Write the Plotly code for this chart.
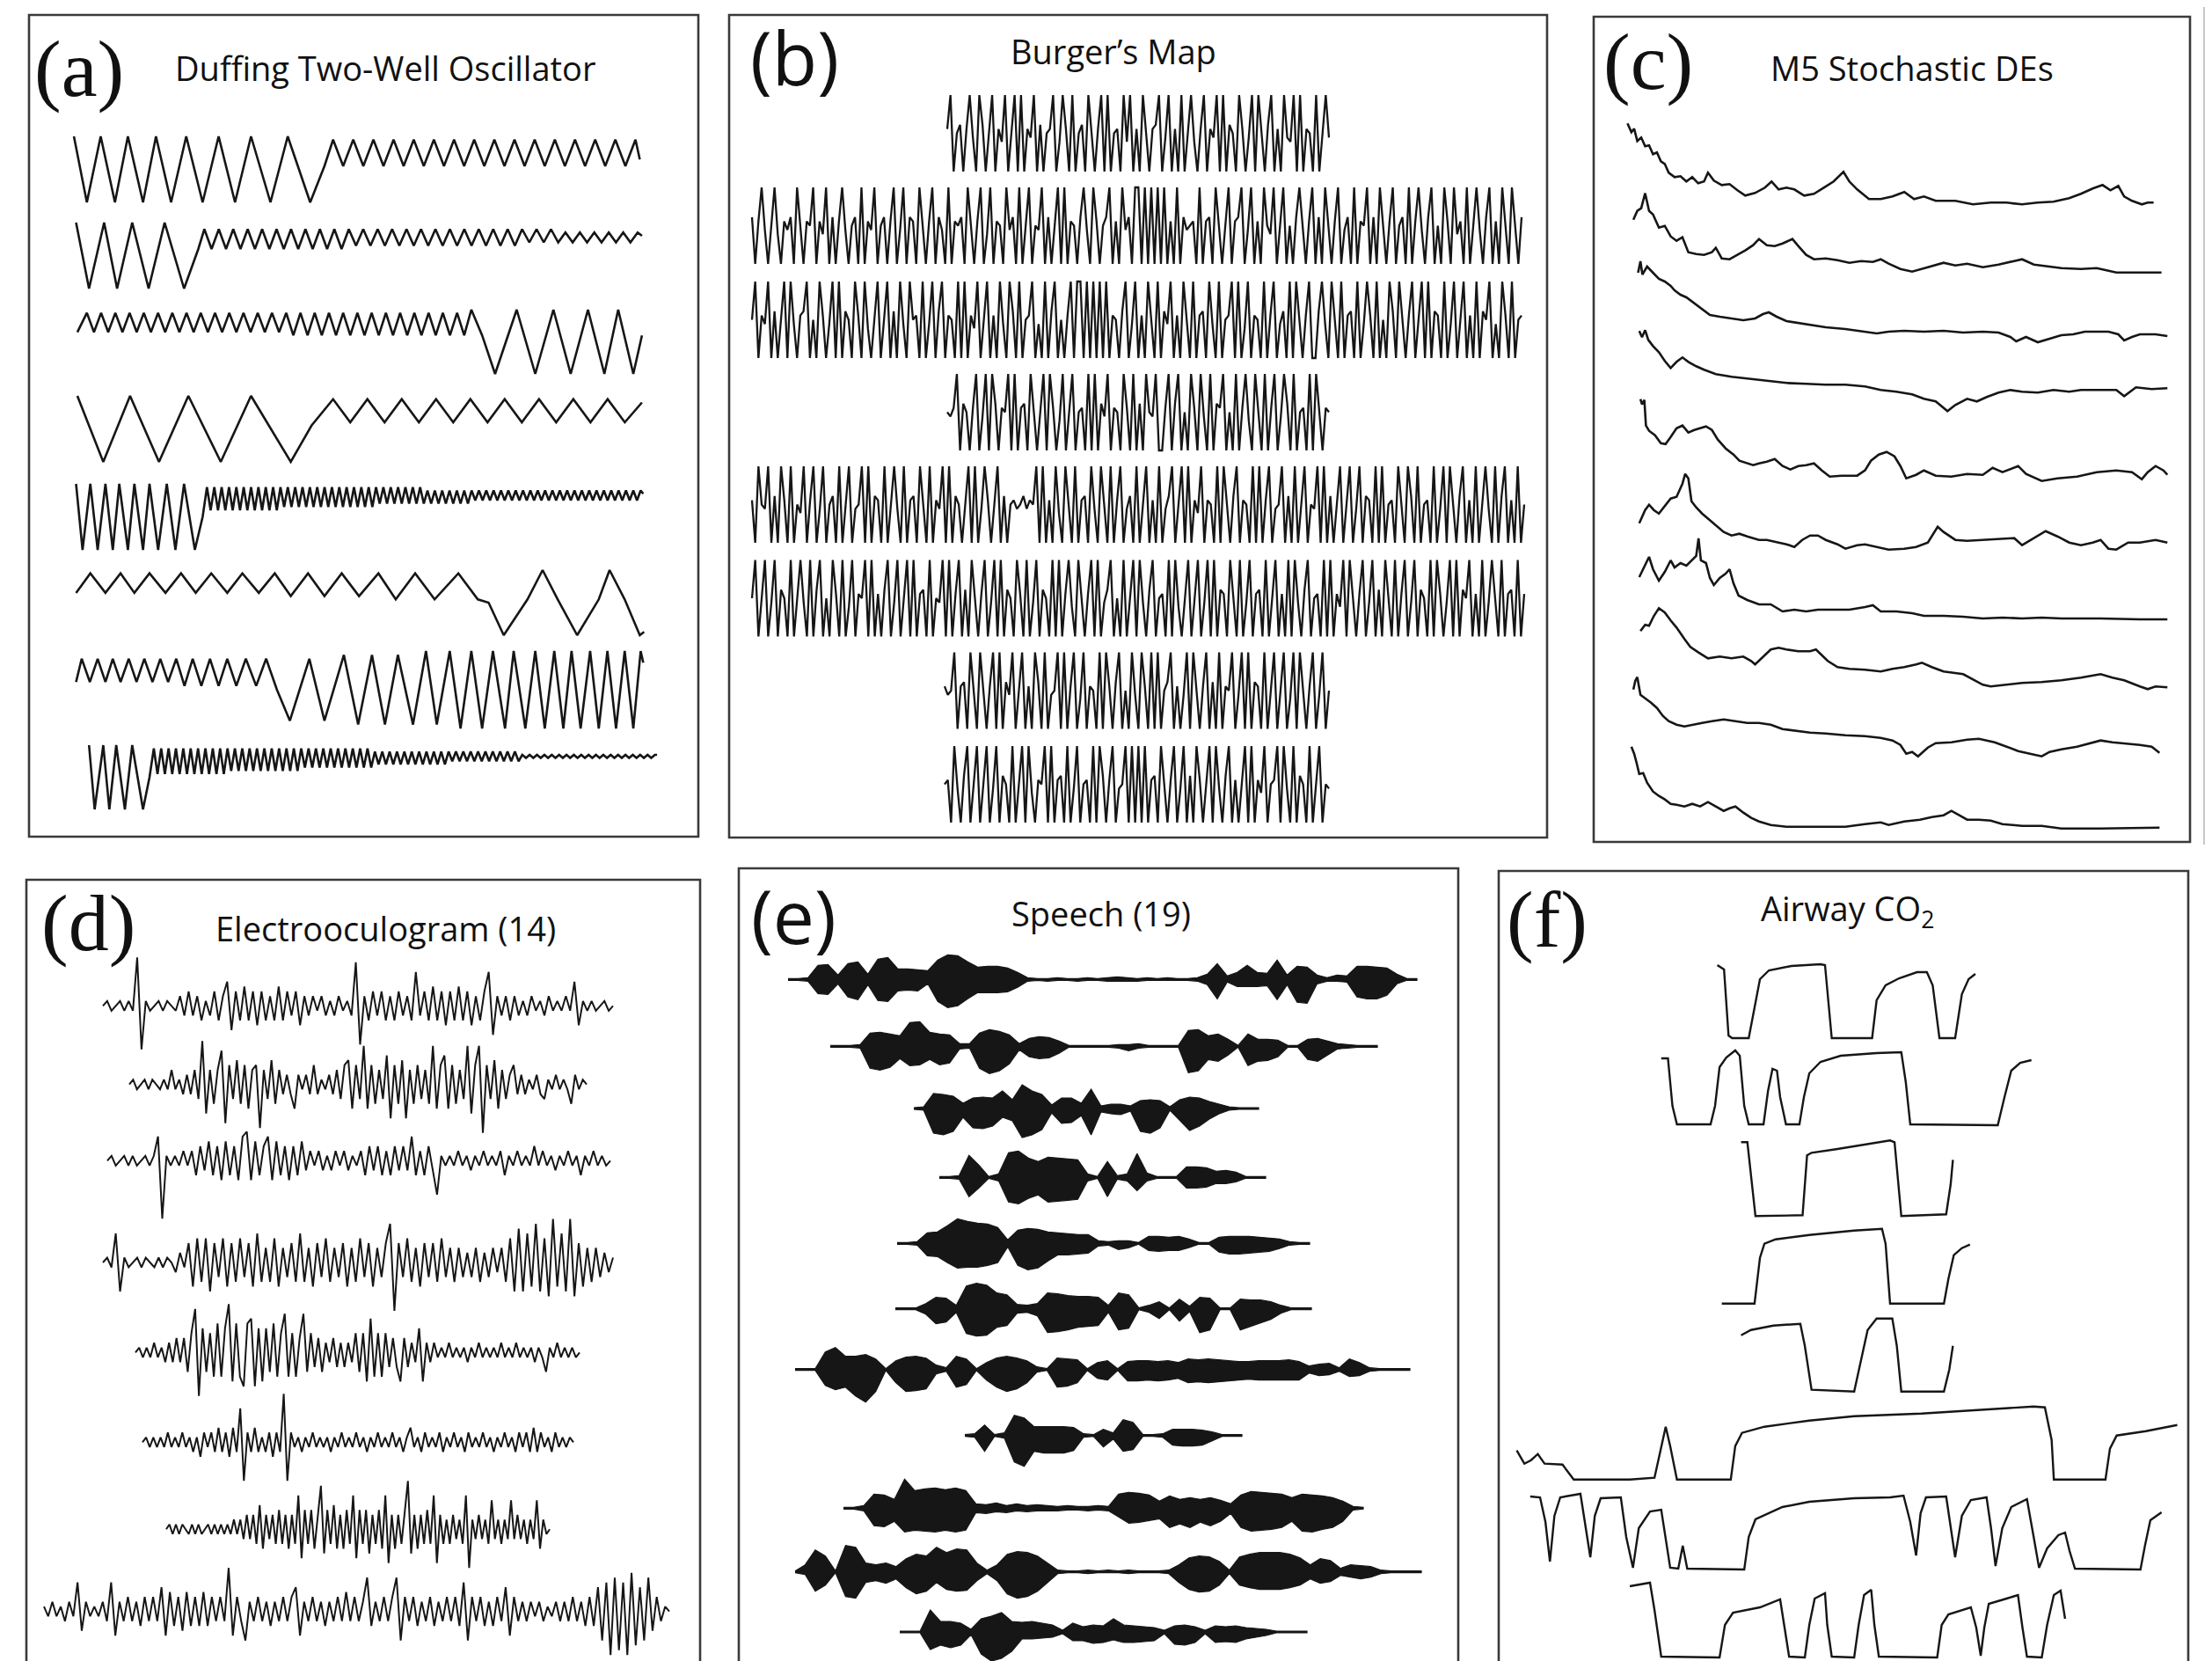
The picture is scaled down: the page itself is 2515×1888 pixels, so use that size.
import numpy as np
import plotly.graph_objects as go

W, H = 2515, 1888
INK = "#161616"

# ============================ DATA ============================
# (a) Duffing two-well oscillator: vertex values (+10 top of swing, -10 bottom)
#     *_K : (vertex index, time) knots of each trace's time base
A1 = [10,-10,10,-10,10,-10,10,-10,10,-10,10,-10,10,-10,10,-10, 1,
      9,1,9,1,9,1,9,1,9,1,9,1,9,1,9,1,9,1,9,1,9,1,9,1,9,1,9,1,9,1,9, 3]
A1_K = [(0,110),(1,140),(2,172),(3,205),(4,235),(5,270),(6,300),(7,335),(8,370),(9,408),
        (10,445),(11,483),(12,520),(13,565),(14,605),(15,657),(16,690),(17,710),(47,1410),(48,1420)]
A2 = [10,-10,10,-10,10,-10,10,-10, 2,
      8,2,8,2,8,2,8,2,8,2,8,2,8,2,8,2,8,2,8,2,
      8,3,8,3,8,3,8,3,8,3,8,3,8,3,8,3,8,3,8,3,
      8,3,8,3,8,4,8,4,8,4,7,4,7,4,7,4,7,4,7,4,
      7, 6]
A2_K = [(0,115),(1,145),(2,180),(3,210),(4,245),(5,283),(6,320),(7,365),(8,398),(9,412),(69,1415),(70,1425)]
A3 = [3,
      9,3,9,3,9,3,9,3,9,3,9,3,9,3,9,3,9,3,9,3,9,3,9,3,9,3,9,3,
      9,2,9,2,9,2,9,2,9,2,9,2,9,2,9,2,9,2,9,2,9,2,9,2,9,2,10,
      2,-10,10,-10,10,-10,10,-10,10,-10,2]
A3_K = [(0,118),(1,140),(55,1030),(56,1055),(57,1085),(58,1135),(59,1178),(60,1220),(61,1260),
        (62,1300),(63,1338),(64,1370),(65,1405),(66,1425)]
A4 = [10,-10,10,-10,10,-10,10,-10, 1, 9,2,9,2,9,2,9,2,9,2,9,2,9,2,9,2,9,2, 8]
A4_K = [(0,118),(1,178),(2,240),(3,307),(4,375),(5,450),(6,520),(7,612),(8,660),(9,710),(27,1425)]
A5 = [10,-10,10,-10,10,-10,10,-10,10,-10,10,-10,10,-10,10,-10, 0,
      9,2,9,2,9,2,9,2,9,2,9,2,9,2,9,2,9,2,9,2,
      9,3,9,3,9,3,9,3,9,3,9,3,9,3,9,3,9,3,9,3,
      9,3,9,3,9,3,9,4,9,4,9,4,9,4,9,4,9,4,9,4,
      8,4,8,4,8,4,8,4,8,4,8,4,8,5,8,5,8,5,8,5,
      8,5,8,5,8,5,8,5,8,5,8,5,8,5,8,5,8,5,8,5,
      8,5,8,5,8,5,8,5,8,5,8,5,8,5,8,5,8,5,8, 7]
A5_K = [(0,115),(1,130),(2,148),(3,165),(4,183),(5,200),(6,215),(7,235),(8,250),(9,270),(10,285),
        (11,305),(12,325),(13,345),(14,365),(15,390),(16,408),(17,418),(135,1422),(136,1428)]
A6 = [3,9,3,9,3,9,3,9,3,9,3,9,3,9,2,9,2,9,2,9,1,9,1,9,1,0,-10,1,10,1,-10,1,10,1,-10,-9]
A6_T = [115,148,183,218,250,285,322,358,392,428,465,500,538,575,612,652,690,730,770,815,
        855,900,945,1000,1045,1070,1105,1160,1195,1230,1275,1325,1350,1385,1420,1430]
A7 = [2,8,2,8,2,8,2,8,2,8, 2,8,2,8,1,8,1,8,1,8, 1,8,1,8,0,-8,8,-8,9,-9,
      9,-9,9,-9,10,-9,10,-10,10,-10, 10,-10,10,-10,10,-10,10,-10,10,-10,
      10,-10,10,-10,10,-10,10,7]
A7_T = [115,128,147,165,183,200,218,237,255,273,292,310,328,347,366,385,405,425,445,465,
        486,508,532,555,580,610,655,690,735,768,800,830,860,895,925,950,980,1005,1030,1055,
        1080,1108,1128,1155,1178,1200,1222,1243,1262,1283,1305,1325,1345,1365,1385,1405,1422,1428]
A8 = [10,-10,10,-10,10,-10,10,-10, 0,
      9,1,9,1,9,1,9,1,9,1,9,1,9,1,9,1,9,1,9,1,
      9,2,9,2,9,2,9,2,9,2,9,2,9,2,9,2,9,2,9,2,
      9,3,9,3,9,3,9,3,9,3,9,3,9,3,9,3,9,3,9,3,
      8,4,8,4,8,4,8,4,8,4,8,4,8,4,8,4,8,4,8,4,
      8,5,8,5,8,5,8,5,8,5,8,5,8,5,8,5,8,5,8,5,
      7,6,7,6,7,6,7,6,7,6,7,6,7,6,7,6,7,6,7,6,
      7,6,7,6,7,6,7,6,7,6,7,6,7,6,7,6,7, 7]
A8_K = [(0,145),(1,158),(2,178),(3,192),(4,208),(5,228),(6,245),(7,270),(8,285),(9,295),(145,1455),(146,1460)]

# (b) Burger's map: samples (+-9 = spike tips, small values = central band)
B1 = [1,9,-9,0,2,-9,1,9,-1,-9,9,2,-9,0,9,-9,1,-2,9,-9,
      0,9,-9,9,-9,1,-1,9,-9,2,-9,0,1,9,-9,-2,9,1,-9,9,
      -9,0,2,-9,9,-1,-9,1,9,-9,9,-9,0,1,-9,9,-2,9,-9,1,
      -9,9,0,-9,1,2,9,-9,-1,9,-9,1,-9,9,-9,0,9,-2,-9,1,
      9,-9,1,-1,9,-9,9,-9,2,0,-9,9,1,-9,-1,9,-9,9,0,-9,
      2,9,-9,1,-9,9,-1,-2,9,-9,9,-9,1,0,-9,9,-9,1,9,-1]
B2 = [2,-9,1,9,-1,-9,0,9,-2,-9,1,-1,2,-9,9,-1,-9,1,0,9,
      -9,1,-2,9,-9,2,-9,1,9,-1,-9,0,2,-9,9,-9,1,-1,9,-9,
      0,2,-9,1,9,-9,-1,9,-9,2,1,-9,9,0,-9,1,9,-9,2,-1,
      -9,9,-9,1,0,2,-9,9,-1,-9,1,9,-9,-2,9,-9,1,0,-9,9,
      -1,2,-9,9,-9,1,9,-9,0,-1,9,-9,2,-9,1,9,-9,9,-9,1,
      0,-9,2,9,-1,-9,9,1,-9,0,2,9,-9,1,-9,9,-1,2,-9,9,
      9,-9,9,-9,9,-9,9,-9,9,-9,1,-9,9,-9,2,-1,0,1,-9,9,
      -9,1,2,-9,9,-1,-9,0,9,-9,1,2,9,-9,-1,9,-9,1,-9,9,
      0,-2,9,-9,1,9,-9,0,-9,2,9,-1,-9,1,9,-9,2,-9,9,0,
      -9,1,9,-9,-1,2,-9,9,-9,1,0,9,-9,2,-9,9,-1,-9,1,9,
      -9,0,2,-9,9,-9,1,9,-1,-9,2,9,-9,0,-9,9,1,-9,9,-2,
      1,-9,9,-9,0,9,-1,-9,2,9,-9,1,-9,9,0,-9,9,-1,-9,2]
B3 = [0,9,-9,1,-1,9,-9,2,-9,0,9,-9,9,-1,-9,1,2,9,-9,0,
      -9,9,1,-9,-1,9,-9,9,-9,2,0,-9,9,1,-9,9,-2,-9,1,9,
      -9,0,9,-9,2,-9,9,-1,-9,9,0,1,-9,9,-9,-1,9,-9,2,9,
      -9,1,0,-9,9,-9,9,-9,1,-2,9,-9,0,9,-9,1,-9,9,-1,-9,
      9,2,-9,9,-9,0,1,9,-9,-1,-9,9,-9,2,9,-9,0,-9,1,9,
      -9,9,9,-9,9,-9,9,-9,9,-9,9,-9,1,0,-9,2,9,-9,-1,9,
      -9,1,-9,9,0,-9,9,-9,2,-1,9,-9,1,-9,9,0,-9,9,-9,1,
      2,-9,9,-1,-9,9,-9,0,1,9,-9,9,-9,-2,9,-9,1,0,-9,9,
      -9,1,9,-9,-1,2,-9,9,-9,9,0,-9,1,9,-9,-9,2,9,-1,-9,
      9,0,-9,9,-9,1,2,-9,9,-9,-1,9,1,-9,9,-9,0,-9,9,2,
      -9,9,-1,-9,1,9,-9,0,9,-9,9,-9,2,1,-9,9,-9,-1,9,-9,
      0,9,-9,1,-9,9,-9,2,0,9,-9,-1,-9,9,1,-9,9,-9,0,1]
B4 = [0,-1,1,9,-9,2,0,-9,1,9,-9,-1,9,-9,9,2,-9,1,0,9,
      -9,9,-9,1,2,-9,9,-1,-9,0,9,-9,9,1,-9,-2,9,-9,1,9,
      -9,0,1,-9,9,-9,9,-9,2,-1,9,-9,1,0,-9,9,1,-9,9,-9,
      2,-9,9,0,-1,9,-9,-9,1,9,-9,2,9,-9,0,-9,9,1,-9,9,
      -1,-9,9,-9,2,1,9,-9,0,-9,9,-9,1,9,-2,-9,9,0,-9,9,
      -9,1,9,-9,-1,9,2,-9,9,-9,0,1,-9,9,-9,9,-1,-9,1,0]
B5 = [1,-9,9,0,-1,9,-9,2,-9,9,1,-9,9,-9,0,-2,9,-9,1,9,
      -9,-1,9,-9,0,2,-9,9,-9,1,9,-9,-1,0,9,-9,9,-9,2,1,
      -9,9,-9,0,9,-1,-9,9,-9,1,2,-9,9,0,-9,9,-9,1,-1,9,
      -9,9,-9,2,0,-9,1,9,-9,9,-9,-1,9,1,-9,0,9,-9,2,-9,
      0,1,-1,0,2,-1,1,0,9,-9,9,-9,1,-9,9,-2,-9,9,0,-9,
      9,-9,1,2,-9,9,-1,-9,9,0,-9,9,-9,1,9,-9,-1,2,-9,9,
      -9,0,9,-9,1,-9,9,-9,-1,2,9,-9,0,9,-9,9,-9,1,-2,9,
      -9,1,0,-9,9,-9,9,-1,-9,2,9,-9,1,0,-9,9,-9,9,-9,1,
      9,-9,-1,0,9,-9,2,-9,9,-9,1,9,-9,0,-1,9,-9,9,-9,2,
      -9,1,9,-9,0,9,-9,-1,9,-9,2,1,-9,9,-9,9,-9,0,1,-9,
      9,-1,-9,9,2,-9,9,-9,0,1,-9,9,-9,-1,9,-9,9,0,-9,2,
      9,-9,1,-9,9,-9,0,9,-1,-9,9,-9,2,9,-9,1,-9,9,-9,0]
B6 = [0,9,-9,1,9,-9,-1,9,-9,2,0,-9,9,-9,1,9,-1,-9,9,-9,
      2,9,-9,0,-9,9,1,-9,9,-9,-2,9,-9,1,0,9,-9,9,-9,1,
      -9,2,9,-9,-1,9,-9,0,9,-9,9,-9,1,2,-9,9,-9,0,-1,9,
      -9,9,-9,1,9,-9,2,-9,9,0,-9,1,9,-9,-1,9,-9,9,-9,2,
      0,-9,9,1,-9,9,-9,-1,9,-9,2,0,-9,9,-9,9,-9,1,9,-2,
      -9,9,0,-9,1,9,-9,9,-9,-1,2,9,-9,0,-9,9,-9,1,9,-9,
      9,-1,-9,2,9,-9,0,1,-9,9,-9,9,-2,-9,1,9,-9,0,9,-9,
      -1,9,-9,9,-9,2,1,-9,9,0,-9,9,-9,-1,9,-9,1,2,-9,9,
      -9,0,9,-9,1,-9,9,-9,9,-1,-9,2,9,-9,0,1,-9,9,-9,9,
      -9,1,-2,9,-9,9,0,-9,1,9,-9,-1,9,-9,2,-9,9,0,-9,9,
      -9,1,9,-9,-1,9,-9,2,0,-9,9,-9,9,1,-9,-1,9,-9,9,-9,
      2,0,9,-9,1,-9,9,-9,-1,9,0,-9,9,-9,1,2,-9,9,-9,1]
B7 = [1,-1,0,9,-9,1,2,-9,9,-1,-9,9,0,-9,1,9,-9,9,-9,2,
      -1,9,-9,0,9,-9,1,-9,9,2,-9,9,-9,-1,0,9,-9,9,-9,1,
      9,-9,-2,9,-9,1,0,-9,9,-9,9,1,-9,2,9,-9,0,-9,9,-1,
      -9,9,1,-9,9,-9,9,-9,0,2,9,-9,1,-9,-1,9,-9,9,0,-9,
      1,9,-9,2,-9,9,-9,1,0,9,-9,-1,9,-9,9,-9,2,1,-9,9,
      -9,0,9,-9,1,9,-9,-2,9,-9,9,0,-9,1,9,-9,-1,9,-9,0]
B8 = [0,1,-9,9,-1,-9,2,9,-9,0,9,-9,1,9,-9,-1,9,-9,2,0,
      -9,9,-9,1,9,-9,9,-2,-9,1,0,9,-9,9,-9,1,2,-9,9,-9,
      -1,9,-9,0,1,-9,9,-9,9,2,-9,1,9,-9,-1,0,9,-9,9,-9,
      9,-9,9,-9,1,2,-9,9,0,-9,1,9,-9,-1,9,-9,2,-9,9,1,
      -9,0,9,-9,9,-1,-9,2,9,-9,1,-9,0,9,-9,9,-9,1,-2,9,
      -9,0,1,9,-9,9,-1,-9,9,-9,2,0,-9,9,-9,1,9,-9,0,-1]

# (c) M5 stochastic DEs: (time, level) pairs, level in px above the trace floor
C1 = [(95,93),(105,83),(112,87),(120,73),(130,77),(140,67),(150,68),(160,58),(170,60),(180,50),(190,47),(200,37),
      (215,32),(230,33),(245,27),(260,32),(275,25),(290,27),(300,37),(315,28),(335,23),(355,24),(375,17),(395,11),
      (420,14),(445,20),(462,27),(480,18),(500,20),(520,18),(545,11),(570,13),(595,20),(620,27),(645,38),(660,27),
      (680,18),(710,7),(740,7),(770,10),(800,15),(825,7),(850,10),(880,5),(930,5),(975,1),(1020,3),(1060,3),
      (1100,1),(1140,3),(1180,4),(1220,8),(1250,13),(1280,19),(1305,23),(1325,17),(1345,22),(1360,10),(1380,5),
      (1405,1),(1420,3),(1435,3)]
C2 = [(110,62),(120,72),(130,75),(140,92),(150,72),(160,68),(175,53),(190,55),(205,43),(220,38),(235,42),(250,25),
      (270,23),(290,22),(310,25),(320,30),(335,18),(355,17),(375,22),(395,27),(415,33),(430,40),(450,33),(470,32),
      (490,35),(515,40),(530,32),(550,22),(570,17),(600,18),(630,16),(660,13),(690,15),(720,14),(740,17),(760,12),
      (790,6),(820,3),(860,8),(900,13),(930,10),(960,12),(1000,8),(1040,11),(1080,15),(1100,17),(1130,11),(1160,9),
      (1200,7),(1250,6),(1290,7),(1310,5),(1340,2),(1455,2)]
C3 = [(122,80),(128,93),(133,78),(145,87),(160,80),(175,73),(190,70),(205,65),(215,60),(230,55),(245,52),(260,47),
      (275,42),(290,37),(305,32),(330,30),(360,28),(390,26),(420,28),(440,33),(455,35),(475,30),(500,25),(530,23),
      (560,21),(600,18),(650,16),(700,13),(730,11),(760,13),(800,14),(850,13),(900,14),(950,12),(1000,13),(1040,12),
      (1070,7),(1085,2),(1110,7),(1140,1),(1170,5),(1200,9),(1230,10),(1260,13),(1290,13),(1320,13),(1345,10),
      (1360,3),(1380,7),(1400,10),(1440,10),(1470,8)]
C4 = [(125,92),(132,85),(140,93),(148,82),(160,75),(175,68),(190,58),(205,50),(220,57),(235,62),(250,57),(270,52),
      (290,48),(320,43),(360,40),(400,38),(450,36),(500,33),(550,32),(600,31),(650,31),(700,29),(740,25),(780,23),
      (820,20),(850,15),(880,12),(910,1),(930,8),(960,15),(985,12),(1010,17),(1040,22),(1070,25),(1100,23),
      (1140,22),(1180,25),(1220,23),(1250,25),(1290,25),(1340,25),(1360,18),(1390,28),(1430,26),(1470,27)]
C5 = [(128,93),(132,87),(138,92),(142,63),(150,57),(165,52),(180,43),(192,42),(205,50),(220,60),(235,63),(250,55),
      (265,58),(280,60),(295,62),(310,58),(325,47),(345,37),(365,30),(380,23),(400,20),(415,18),(430,20),(450,22),
      (470,25),(490,17),(510,13),(530,17),(550,18),(570,20),(590,12),(610,5),(640,6),(680,6),(700,12),(715,23),
      (735,30),(755,33),(775,28),(790,17),(805,3),(830,7),(850,12),(880,6),(920,5),(960,8),(1000,7),(1025,15),
      (1050,10),(1090,17),(1110,8),(1150,0),(1190,3),(1240,5),(1290,10),(1340,12),(1380,10),(1405,2),(1420,10),
      (1440,17),(1460,12),(1470,7)]
C6 = [(125,32),(140,47),(150,53),(162,47),(175,43),(190,52),(205,60),(220,62),(235,77),(242,88),(250,83),(258,57),
      (270,50),(285,43),(300,37),(320,30),(340,22),(360,18),(380,20),(400,17),(430,13),(450,13),(480,10),(500,8),
      (520,5),(540,13),(560,18),(580,18),(600,13),(630,8),(650,3),(680,7),(700,8),(730,5),(760,2),(800,3),(830,5),
      (860,10),(875,20),(885,28),(900,22),(930,13),(960,12),(1000,13),(1040,14),(1080,15),(1100,7),(1130,15),
      (1160,23),(1190,17),(1220,10),(1250,7),(1280,10),(1300,13),(1320,3),(1340,2),(1370,10),(1400,10),(1440,13),
      (1470,10)]
C7 = [(125,49),(135,58),(150,72),(160,58),(175,45),(190,55),(205,68),(215,60),(230,65),(245,62),(260,68),(270,73),
      (276,93),(282,68),(295,65),(305,48),(315,40),(330,48),(345,53),(355,58),(365,42),(378,28),(400,23),(430,18),
      (460,18),(490,10),(520,12),(550,10),(580,12),(620,12),(660,12),(700,15),(720,17),(740,10),(780,10),(820,8),
      (850,5),(900,5),(950,4),(1000,2),(1050,3),(1100,2),(1150,3),(1200,2),(1300,2),(1400,1),(1470,1)]
C8 = [(128,66),(140,73),(150,72),(162,83),(175,92),(190,87),(205,78),(220,70),(240,57),(255,48),(275,42),(300,35),
      (330,37),(360,35),(390,37),(410,32),(420,28),(440,37),(460,45),(480,47),(500,45),(530,43),(560,43),(575,45),
      (590,38),(605,32),(630,25),(660,23),(700,22),(740,20),(770,23),(800,25),(830,28),(845,30),(870,25),(900,20),
      (950,17),(980,10),(1000,5),(1020,3),(1060,5),(1100,7),(1150,8),(1200,10),(1250,13),(1300,17),(1330,13),
      (1360,10),(1400,3),(1420,0),(1440,3),(1470,2)]
C9 = [(110,78),(115,88),(120,92),(128,72),(140,68),(155,63),(170,57),(185,48),(200,42),(220,38),(240,36),(260,38),
      (285,40),(310,42),(340,44),(370,42),(400,40),(430,40),(460,38),(490,33),(520,31),(560,29),(600,28),(650,26),
      (700,25),(740,23),(770,20),(790,15),(805,5),(820,7),(835,2),(848,7),(860,12),(880,17),(920,18),(960,21),
      (990,22),(1030,18),(1060,13),(1090,8),(1120,5),(1150,2),(1170,7),(1200,10),(1240,13),(1280,18),(1300,20),
      (1330,18),(1360,17),(1400,15),(1430,13),(1450,6)]
C10 = [(105,94),(112,86),(118,76),(125,63),(135,64),(145,53),(160,43),(175,38),(190,34),(205,29),(220,28),(240,26),
       (260,29),(280,26),(300,31),(320,26),(340,21),(355,24),(370,26),(390,19),(410,13),(430,9),(460,5),(500,3),
       (550,3),(600,3),(650,3),(700,6),(740,8),(760,5),(800,9),(840,11),(870,14),(900,16),(920,21),(940,16),
       (960,11),(990,11),(1020,10),(1050,6),(1100,4),(1150,4),(1200,1),(1300,1),(1450,2)]

# (d) Electrooculogram: samples
D1 = [0,1,-1,0,1,-1,1,-1,10,-9,1,-1,0,1,-1,1,0,-1,2,-2,
      3,-2,2,-3,1,-2,3,-3,2,5,-5,3,-3,4,-3,3,-4,3,-3,2,
      -3,4,-3,3,-2,3,-4,2,-2,2,-1,2,-2,1,-2,2,-1,1,-2,9,
      -8,2,-3,3,-2,3,-3,2,-3,3,-2,2,-3,7,-2,3,-3,4,-3,3,
      -4,3,-3,4,-3,3,-4,2,-3,3,7,-6,2,-2,2,-3,2,-2,1,-2,
      2,-1,1,-2,2,-1,1,-1,2,-1,5,-4,1,-1,1,-1,0,1,-1,0]
D2 = [0,1,-1,0,1,-1,1,0,-1,1,-1,3,-1,1,-2,2,-2,3,-3,9,
      -6,3,-4,3,7,-8,4,-3,5,-4,4,-5,3,4,-9,3,-3,5,-4,3,
      -2,2,-2,-5,2,-1,2,-2,4,-2,1,-1,2,-2,3,-3,4,5,-5,4,
      -3,8,-5,4,-4,3,-3,6,-7,4,-4,5,-7,3,-4,4,-3,3,-4,8,
      -5,4,6,-5,4,-4,3,-3,8,-6,4,8,-10,4,-3,5,-5,3,-3,2,
      4,-2,2,-2,1,-1,2,-2,-3,1,-1,2,-1,1,-1,-4,2,-1,1,0]
D3 = [0,1,-1,0,1,-1,1,-1,0,1,-1,1,5,-12,1,-1,1,-1,2,-1,
      2,-3,3,-2,4,-3,3,-4,4,-3,3,-4,5,6,-4,4,-3,3,5,-4,
      4,-3,3,-4,3,-3,4,-2,2,-1,2,-2,1,-2,2,-1,2,-2,1,-1,
      2,-3,3,-2,3,-3,2,-3,3,-2,3,-2,5,-3,2,-3,3,-2,-7,1,
      -1,1,-1,2,-1,1,-2,1,-1,2,-1,1,-1,2,-3,1,-1,2,-1,1,
      -1,3,-1,2,-1,1,-2,1,-1,2,-1,1,-3,1,-1,2,-1,1,-1,0]
D4 = [0,1,-1,6,-6,1,-1,0,1,-1,1,0,-1,1,-1,1,0,-2,2,-1,
      4,-5,5,-4,5,-6,4,-3,5,-5,4,-4,5,-3,4,-5,6,-4,3,-4,
      5,-5,3,-3,4,-4,6,-4,3,-5,4,-3,5,-4,3,-3,4,-5,3,-4,
      5,-3,4,-5,3,-3,4,8,-10,4,-3,5,-4,3,-5,4,-3,4,-4,5,
      -3,3,-4,3,-3,2,-3,3,-4,2,-3,3,-2,3,-4,5,-6,7,-6,6,
      -5,8,-6,5,-7,9,-5,6,-6,9,-7,4,-5,3,-4,3,-3,2,-2,1]
D5 = [0,1,-1,1,-1,2,-1,1,-2,2,-2,3,-2,3,-4,4,9,-9,5,-4,
      4,-5,6,-5,5,10,-6,6,-5,-7,6,7,-7,5,-6,5,-4,6,-5,4,
      8,-5,4,-5,3,8,-4,4,-3,3,-4,2,-2,3,-3,2,-3,2,-2,4,
      -4,4,-6,7,-5,4,-5,4,-3,3,-3,-6,3,-3,2,-2,5,-6,2,-2,
      2,-1,1,-1,2,-1,1,-1,1,-2,1,-1,2,-1,1,-1,1,-1,2,-1,
      1,-1,2,-1,1,-1,1,-2,1,-1,-4,1,-1,2,-1,1,-1,1,-1,0]
D6 = [0,1,-1,1,-1,1,-1,2,-1,1,-1,2,-1,1,-2,1,-3,2,-1,2,
      -2,3,-2,2,-3,3,-2,7,-8,2,-2,3,-2,1,-2,2,-3,2,-2,10,
      -8,2,-1,1,-2,1,-1,2,-1,1,-1,1,-2,1,-1,2,-1,1,-1,2,
      -1,1,-2,1,-1,2,-1,1,-1,2,-1,1,-2,1,3,-1,1,-2,2,-1,
      1,-1,2,-2,1,-1,2,-1,1,-2,2,-1,1,-1,2,-1,1,-2,1,-1,
      2,-1,1,-2,2,-1,2,-2,3,-2,2,-1,1,-2,2,-1,1,-1,1,0]
D7 = [0,1,-1,1,-1,1,0,-1,1,-1,1,-1,0,1,-1,1,-1,1,-1,1,
      -1,2,-1,2,-2,3,-2,3,-3,5,-4,3,-2,3,-3,4,-3,3,-4,3,
      -3,7,-6,4,-3,4,-4,3,9,-5,4,-3,5,-4,3,-4,4,-3,7,-6,
      4,-3,4,-5,3,-3,4,-4,7,-7,3,-4,3,-3,4,10,-5,3,-4,3,
      -3,4,-3,7,-7,3,-3,2,-3,3,-2,2,-3,7,-8,2,-2,3,-2,2,
      -3,6,-2,2,-3,2,-2,6,-2,3,-2,2,-3,2,-2,6,-4,2,-1,0]
D8 = [1,-1,2,-1,1,-2,2,-1,6,-4,2,-1,1,-1,2,-2,6,-5,2,-2,
      3,-2,2,-3,3,-2,3,-2,5,-5,4,-3,3,-4,4,-3,3,-3,4,-3,
      3,-2,3,-2,9,-5,3,-2,-6,2,-2,3,-2,2,-3,2,-2,3,-2,3,
      5,-5,2,-2,3,-2,2,-3,2,-2,3,-2,4,-2,3,-2,2,7,-3,2,
      -2,3,-2,3,7,-6,3,-2,3,-3,2,-2,3,-3,2,-2,3,-2,3,-3,
      6,-6,3,-2,3,-3,2,-3,3,-2,5,-5,3,-2,2,-2,2,-1,2,-2,
      1,-1,2,-2,2,-2,3,-2,2,-3,3,-3,5,-6,6,-9,7,-8,6,-9,
      8,-7,5,-6,7,-4,3,-2,1,0]

# (e) Speech: envelope samples (upper extent, lower extent), px
E1 = [(1,1),(1,1),(2,2),(16,16),(17,17),(5,5),(18,20),(20,23),(6,6),(23,24),(25,25),(12,13),(12,12),(11,13),
      (10,5),(22,25),(28,32),(27,30),(20,22),(14,15),(15,15),(15,15),(13,14),(8,9),(2,2),(1,1),(1,2),(2,1),
      (1,1),(1,2),(2,1),(1,1),(2,2),(3,2),(2,2),(1,2),(2,1),(1,1),(2,1),(1,1),(1,1),(2,2),(6,6),(18,22),(4,3),
      (8,8),(16,8),(8,8),(7,7),(22,23),(5,6),(15,26),(14,27),(5,5),(2,2),(5,2),(4,3),(15,20),(15,22),(14,22),
      (13,18),(6,5),(1,1),(1,1)]
E2 = [(1,1),(1,1),(1,1),(2,2),(15,25),(16,27),(14,24),(12,14),(27,22),(28,21),(16,15),(14,21),(13,19),(3,3),
      (3,2),(15,25),(19,31),(17,28),(13,20),(3,4),(9,12),(11,14),(10,13),(6,8),(1,1),(1,1),(1,1),(1,1),(1,1),
      (2,2),(2,5),(3,2),(1,1),(1,1),(1,1),(1,1),(18,30),(19,28),(12,15),(14,17),(8,10),(1,1),(14,22),(8,17),
      (8,16),(7,12),(1,1),(1,1),(8,15),(9,17),(6,10),(3,3),(2,2),(1,1),(1,1),(1,1)]
E3 = [(1,1),(2,2),(17,28),(16,30),(14,26),(6,10),(12,22),(13,23),(12,20),(20,10),(10,14),(27,33),(20,30),
      (16,24),(4,5),(12,17),(12,16),(6,8),(22,30),(3,4),(5,6),(5,7),(3,3),(9,26),(10,28),(9,22),(2,2),(10,14),
      (13,25),(12,20),(8,12),(5,6),(2,2),(1,1),(1,1),(1,1)]
E4 = [(1,1),(1,1),(2,2),(25,22),(14,12),(1,1),(4,4),(28,28),(30,30),(22,24),(18,20),(23,28),(22,27),(21,26),
      (20,25),(4,4),(1,1),(18,22),(2,2),(4,4),(27,15),(5,4),(1,1),(1,1),(1,1),(12,12),(12,12),(11,11),(7,7),
      (8,7),(6,5),(1,1),(1,1),(1,1)]
E5 = [(1,1),(1,1),(2,2),(12,14),(13,15),(20,22),(28,28),(25,27),(23,27),(22,25),(18,22),(4,4),(15,25),(17,30),
      (16,28),(13,20),(12,13),(11,13),(10,12),(10,11),(3,3),(2,2),(3,7),(3,5),(1,1),(8,8),(8,9),(7,8),(8,8),
      (5,5),(1,1),(1,1),(7,10),(8,12),(8,12),(8,11),(7,10),(6,9),(5,6),(2,2),(1,1),(1,1)]
E6 = [(1,1),(1,1),(1,1),(6,6),(13,17),(12,15),(4,4),(26,28),(29,31),(27,30),(18,21),(16,19),(5,5),(4,4),(6,8),
      (18,27),(17,26),(15,24),(14,21),(14,20),(13,19),(4,4),(18,24),(16,22),(1,1),(4,4),(8,11),(1,1),(11,14),
      (3,3),(13,27),(12,24),(1,1),(1,1),(11,24),(10,20),(10,16),(8,12),(4,5),(1,1),(1,1),(1,1)]
E7 = [(1,1),(1,1),(1,1),(20,18),(25,23),(15,20),(15,30),(17,37),(12,25),(1,1),(10,15),(14,25),(15,24),(13,22),
      (5,5),(2,2),(15,20),(12,17),(1,1),(8,12),(13,20),(15,25),(13,22),(10,15),(3,3),(1,1),(13,20),(12,19),
      (11,15),(1,1),(8,10),(10,12),(1,1),(9,13),(10,13),(10,12),(9,13),(10,12),(8,10),(12,15),(11,14),(12,15),
      (11,14),(10,13),(9,12),(9,11),(10,12),(10,12),(10,12),(11,12),(9,12),(4,4),(6,7),(7,6),(2,2),(12,8),
      (8,7),(2,2),(1,1),(1,1),(1,1),(1,1)]
E8 = [(1,1),(2,2),(12,18),(1,1),(3,3),(23,30),(20,35),(10,18),(10,20),(10,20),(10,20),(9,17),(2,2),(1,1),
      (7,13),(3,4),(18,18),(15,16),(1,1),(1,1),(2,2),(7,11),(7,12),(7,12),(6,11),(4,6),(1,1),(1,1),(1,1)]
E9 = [(1,1),(1,1),(3,3),(16,20),(15,21),(10,15),(33,27),(20,25),(22,26),(23,27),(21,25),(23,27),(20,25),(5,5),
      (4,6),(6,4),(3,5),(5,3),(3,4),(4,3),(3,3),(2,3),(3,2),(2,2),(2,3),(3,2),(2,3),(16,10),(18,17),(17,16),
      (15,14),(8,12),(14,22),(10,18),(12,22),(10,16),(12,20),(9,15),(5,6),(15,22),(19,26),(18,25),(17,24),
      (16,22),(12,15),(16,26),(15,27),(14,24),(12,22),(8,15),(2,2),(1,1)]
E10 = [(1,1),(8,3),(25,22),(18,15),(1,1),(30,28),(28,30),(10,12),(8,10),(10,13),(6,8),(15,18),(20,25),(18,22),
       (28,12),(22,20),(26,22),(25,21),(10,10),(2,2),(8,10),(20,25),(23,30),(22,28),(18,22),(10,12),(2,2),(1,1),
       (1,1),(2,2),(1,1),(2,1),(1,1),(2,2),(1,1),(1,1),(1,1),(2,2),(8,12),(16,20),(18,23),(17,22),(12,15),(2,2),
       (17,15),(20,18),(22,20),(22,20),(22,20),(20,18),(16,15),(8,8),(15,13),(13,11),(4,4),(8,6),(7,8),(6,6),
       (2,2),(1,1),(1,1),(1,1),(1,1)]
E11 = [(1,1),(1,1),(1,1),(25,20),(12,15),(12,18),(10,15),(3,3),(15,25),(18,33),(22,30),(12,22),(11,8),(12,8),
       (10,7),(8,6),(2,2),(10,10),(6,10),(8,13),(7,12),(15,9),(8,12),(7,12),(6,11),(5,10),(2,2),(7,14),(8,15),
       (6,12),(2,2),(7,12),(6,11),(7,12),(5,8),(4,6),(3,4),(1,1),(1,1),(1,1),(1,1)]

# (f) Airway CO2: (time, level) pairs, level in px above the low plateau
F1 = [(495,83),(510,78),(520,3),(528,0),(565,0),(575,27),(590,67),(610,77),(660,82),(725,84),(735,83),(750,0),
      (840,0),(850,43),(870,60),(900,68),(940,75),(962,75),(975,60),(990,0),(1025,0),(1040,50),(1055,67),(1070,73)]
F2 = [(370,76),(385,76),(395,22),(405,1),(480,1),(490,22),(500,66),(515,77),(535,85),(545,79),(555,22),(565,1),
      (598,1),(608,39),(618,64),(628,62),(635,32),(648,1),(678,1),(688,32),(700,59),(725,72),(770,79),(850,82),
      (905,83),(915,49),(925,1),(1120,0),(1135,32),(1150,62),(1170,71),(1195,74)]
F3 = [(548,84),(562,84),(580,0),(685,1),(695,69),(705,72),(760,76),(820,81),(880,86),(890,84),(905,0),(1005,2),
      (1015,36),(1020,64)]
F4 = [(505,0),(578,0),(590,52),(600,68),(625,73),(700,78),(800,83),(862,85),(870,68),(880,0),(1000,0),(1010,28),
      (1022,55),(1040,63),(1058,67)]
F5 = [(548,64),(570,70),(620,75),(680,77),(690,52),(705,2),(800,0),(815,35),(830,70),(850,83),(885,83),(895,52),
      (905,0),(1000,0),(1012,25),(1020,52)]
F6 = [(48,33),(65,18),(80,22),(95,29),(110,18),(150,17),(175,0),(300,0),(355,2),(370,38),(380,60),(390,38),
      (405,0),(525,0),(535,38),(550,53),(600,60),(700,67),(800,72),(950,75),(1100,80),(1200,83),(1225,82),
      (1240,45),(1245,0),(1360,0),(1370,35),(1385,50),(1450,55),(1520,62)]
F7 = [(78,83),(100,82),(112,54),(122,9),(132,61),(145,82),(190,86),(200,54),(212,14),(222,61),(235,81),(280,82),
      (292,37),(307,2),(320,47),(345,66),(370,68),(390,2),(408,1),(418,27),(428,1),(555,0),(565,37),(580,57),
      (640,71),(700,77),(800,81),(880,82),(910,84),(925,54),(938,16),(948,64),(960,82),(1005,83),(1015,47),
      (1025,14),(1040,61),(1060,79),(1095,82),(1105,47),(1115,4),(1130,47),(1150,71),(1185,80),(1200,37),
      (1212,2),(1230,24),(1255,39),(1270,42),(1280,21),(1292,1),(1438,0),(1448,27),(1460,56),(1485,65)]
F8 = [(300,81),(345,85),(355,54),(370,1),(500,0),(512,37),(530,51),(590,57),(635,66),(645,34),(655,1),(690,0),
      (700,37),(712,67),(735,73),(740,37),(750,1),(800,0),(810,37),(822,71),(838,77),(845,37),(855,1),(985,0),
      (995,37),(1010,49),(1060,57),(1072,34),(1082,2),(1090,34),(1100,61),(1140,67),(1165,71),(1175,34),
      (1185,1),(1218,0),(1230,37),(1245,71),(1260,76),(1270,44)]

# Text
PANEL_LABELS = ["(a)", "(b)", "(c)", "(d)", "(e)", "(f)"]
PANEL_TITLES = ["Duffing Two-Well Oscillator", "Burger\u2019s Map", "M5 Stochastic DEs",
                "Electrooculogram (14)", "Speech (19)", "Airway CO<sub>2</sub>"]

# ============================ POSITIONS / STYLE ============================
# positions below are page pixels; the page body adds an 8 px margin
OX, OY = 8, 8
A_X = (30.0, 2.036)                      # px = A_X[0] + t / A_X[1]
A_Y = [(155, 230), (253, 328), (352, 425), (450, 525), (550, 625), (648, 722), (740, 828), (847, 920)]
B_ROWS = [(1077, 1511, 151.5), (855, 1730, 256.5), (855, 1730, 363.5), (1077, 1511, 468.5),
          (855, 1733, 573.5), (855, 1733, 680), (1074, 1511, 785), (1074, 1511, 891.5)]
B_PX = 43.5 / 9
C_X = (1808.0, 2.24)
C_FLOOR = [233.3, 311.7, 390, 468.3, 546.7, 626.7, 705, 783.3, 861.7, 942.7]
D_ROWS = [(117, 697, 1143.3), (147, 667, 1232.7), (122, 694, 1319.3), (117, 697, 1435),
          (154, 659, 1537.3), (162, 652, 1639.3), (189, 625, 1738.3), (50, 761, 1831.7)]
D_PX = 5.5
E_ROWS = [(896, 1611, 1113.3), (944, 1566, 1189.3), (1039, 1431, 1260), (1068, 1439, 1338.3),
          (1020, 1489, 1413.3), (1018, 1491, 1487.7), (904, 1603, 1556.7), (1097, 1412, 1631.7),
          (959, 1550, 1714.3), (904, 1616, 1786.7), (1023, 1486, 1855)]
F_X = (1700.0, 1.96)
F_FLOOR = [1180, 1279, 1382.3, 1481.7, 1581.7, 1681.7, 1784, 1884]

BOXES = [(33, 794, 17, 951), (829, 1759, 17, 952), (1812, 2490, 19, 957),
         (30, 796, 1000, 1960), (840, 1658, 987, 1960), (1704, 2488, 990, 1960)]
LABEL_POS = [(90, 78, "serif"), (903, 64, "sans"), (1874, 70, "serif"),
             (100, 1049, "serif"), (902, 1040, "sans"), (1759, 1045, "serif")]
TITLE_POS = [(438, 77), (1266, 58), (2174, 77), (438, 1055), (1252, 1038), (2100, 1034)]


def fx(px):
    return (px - OX) / W


def fy(py):
    return 1 - (py - OY) / H


# ============================ BUILD ============================
fig = go.Figure()
axes = {}
count = [0]


def add(x, y, xmap, ymap, **kw):
    count[0] += 1
    k = count[0]
    s = "" if k == 1 else str(k)
    x = np.asarray(x, float)
    y = np.asarray(y, float)
    px = xmap[0] + xmap[1] * x
    py = ymap[0] + ymap[1] * y
    X0, X1 = max(px.min() - 8, OX), min(px.max() + 8, W + OX)
    Y0, Y1 = max(py.min() - 8, OY), min(py.max() + 8, H + OY)
    xr = [(X0 - xmap[0]) / xmap[1], (X1 - xmap[0]) / xmap[1]]
    yr = [(Y1 - ymap[0]) / ymap[1], (Y0 - ymap[0]) / ymap[1]]
    axes["xaxis" + s] = dict(domain=[fx(X0), fx(X1)], range=xr, visible=False,
                             anchor="y" + s, fixedrange=True)
    axes["yaxis" + s] = dict(domain=[fy(Y1), fy(Y0)], range=yr, visible=False,
                             anchor="x" + s, fixedrange=True)
    fig.add_trace(go.Scatter(x=x, y=y, xaxis="x" + s, yaxis="y" + s, hoverinfo="skip",
                             showlegend=False, **kw))


def timebase(n, knots):
    ki, kt = zip(*knots)
    return np.interp(np.arange(n), ki, kt)


# (a)
A_SET = [(A1, A1_K), (A2, A2_K), (A3, A3_K), (A4, A4_K), (A5, A5_K),
         (A6, list(enumerate(A6_T))), (A7, list(enumerate(A7_T))), (A8, A8_K)]
for (vals, knots), (top, bot) in zip(A_SET, A_Y):
    t = timebase(len(vals), knots)
    add(t, vals, (A_X[0], 1 / A_X[1]), ((top + bot) / 2, -(bot - top) / 20),
        mode="lines", line=dict(color=INK, width=2.6))

# (b)
for vals, (x0, x1, cy) in zip([B1, B2, B3, B4, B5, B6, B7, B8], B_ROWS):
    n = len(vals)
    add(np.arange(n), vals, (x0, (x1 - x0) / (n - 1)), (cy, -B_PX),
        mode="lines", line=dict(color=INK, width=2.3))

# (c)
for pts, fl in zip([C1, C2, C3, C4, C5, C6, C7, C8, C9, C10], C_FLOOR):
    t, v = zip(*pts)
    add(t, v, (C_X[0], 1 / C_X[1]), (fl, -1.0),
        mode="lines", line=dict(color=INK, width=2.6))

# (d)
for vals, (x0, x1, cy) in zip([D1, D2, D3, D4, D5, D6, D7, D8], D_ROWS):
    n = len(vals)
    add(np.arange(n), vals, (x0, (x1 - x0) / (n - 1)), (cy, -D_PX),
        mode="lines", line=dict(color=INK, width=2.0))

# (e)
for env, (x0, x1, cy) in zip([E1, E2, E3, E4, E5, E6, E7, E8, E9, E10, E11], E_ROWS):
    up, dn = (np.array(v, float) for v in zip(*env))
    n = len(up)
    idx = np.arange(n)
    xs = np.concatenate([idx, idx[::-1]])
    ys = np.concatenate([up, -dn[::-1]])
    add(xs, ys, (x0, (x1 - x0) / (n - 1)), (cy, -1.0),
        mode="lines", fill="toself", fillcolor=INK, line=dict(color=INK, width=1.2))

# (f)
for pts, fl in zip([F1, F2, F3, F4, F5, F6, F7, F8], F_FLOOR):
    t, v = zip(*pts)
    add(t, v, (F_X[0], 1 / F_X[1]), (fl, -1.0),
        mode="lines", line=dict(color=INK, width=2.4))

shapes = []
for (x0, x1, y0, y1) in BOXES:
    shapes.append(dict(type="rect", xref="paper", yref="paper",
                       x0=fx(x0), x1=fx(x1), y0=fy(y1), y1=fy(y0),
                       line=dict(color="#3a3a3a", width=2.6), fillcolor="rgba(0,0,0,0)", layer="below"))
shapes.append(dict(type="line", xref="paper", yref="paper", x0=fx(2506), x1=fx(2506),
                   y0=fy(960), y1=fy(0), line=dict(color="#c8c8c8", width=2)))

annotations = []
for text, (x, y, kind) in zip(PANEL_LABELS, LABEL_POS):
    if kind == "serif":
        font = dict(family="Liberation Serif, Times New Roman, serif", size=92, color="#111")
    else:
        font = dict(family="Open Sans, Noto Sans, sans-serif", size=84, color="#111")
    annotations.append(dict(text=text, x=fx(x), y=fy(y), xref="paper", yref="paper",
                            xanchor="center", yanchor="middle", showarrow=False, font=font))
for text, (x, y) in zip(PANEL_TITLES, TITLE_POS):
    annotations.append(dict(text=text, x=fx(x), y=fy(y), xref="paper", yref="paper",
                            xanchor="center", yanchor="middle", showarrow=False,
                            font=dict(family="Open Sans, Noto Sans, sans-serif", size=38, color="#111")))

fig.update_layout(width=W, height=H, autosize=False,
                  margin=dict(l=0, r=0, t=0, b=0),
                  paper_bgcolor="white", plot_bgcolor="rgba(0,0,0,0)",
                  showlegend=False, shapes=shapes, annotations=annotations, **axes)

fig.write_html("out.html")
